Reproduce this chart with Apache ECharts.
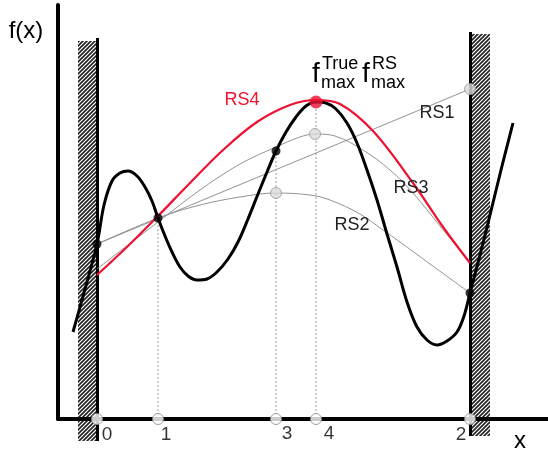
<!DOCTYPE html>
<html><head><meta charset="utf-8">
<script src="https://cdn.jsdelivr.net/npm/echarts@6/dist/echarts.min.js"></script>
<style>html,body{margin:0;padding:0;background:#fff}#c{width:548px;height:452px}</style>
</head><body><div id="c"></div>
<script>
// ---- data (abstract units: x to the right, f upward) ----
const fX = [15,27,39,46,54,62,70,79,87,94,100,107,114,122,130,139,149,159,170,180,190,200,209,218,228,238,248,258,268,278,289,299,309,319,329,339,349,359,369,379,389,399,406,412,422,432,443,455];
const fY = [87,130,175,214,238,246,248,243,232,218,201,183,167,152,143,139,140,147,160,177,200,225,247,268,287,302,313,317,316,310,296,276,249,219,185,152,117,92,79,74,78,87,103,126,164,204,249,296];
const rs1X = [39,412];
const rs1Y = [175,330];
const rs2X = [39,100,142,182,218,252,272,302,325,342,372,412];
const rs2Y = [175,201,214,222,226,224,219,205,189,177,155,126];
const rs3X = [39,100,142,182,218,242,257,277,305,332,355,382,412];
const rs3Y = [150,197,229,255,272,282,285,283,269,249,226,193,157];
const rs4X = [39,70,100,132,165,199,232,258,282,315,355,385,412];
const rs4Y = [144,173,203,236,269,297,314,319,315,288,236,192,156];
const designLabels = ['0','1','2','3','4'];
const designX = [39,100,412,218,258];
const designF = [175,201,126,268,317];
const predX = [412,218,257];
const predY = [330,226,285];
const rsNames = ['RS1','RS2','RS3','RS4'];

function pairs(xs, ys){ return xs.map((x,i)=>[x, ys[i]]); }

const chart = echarts.init(document.getElementById('c'), null, {renderer:'canvas'});

// hatch pattern
const pc = document.createElement('canvas'); pc.width = 4; pc.height = 4;
const g = pc.getContext('2d');
g.fillStyle = '#fff'; g.fillRect(0,0,4,4);
g.strokeStyle = '#222'; g.lineWidth = 1.6;
g.beginPath();
g.moveTo(0,4); g.lineTo(4,0);
g.moveTo(-1,1); g.lineTo(1,-1);
g.moveTo(3,5); g.lineTo(5,3);
g.stroke();
const hatch = {image: pc, repeat: 'repeat'};

const FONT = 'Liberation Sans, Arial, sans-serif';
function txt(x, y, text, size, color, align){
  return {type:'text', x:x, y:y, z:20, style:{text:text, font: size + 'px ' + FONT, fill: color || '#000', textAlign: align || 'center', textVerticalAlign:'middle'}};
}

const gray = '#939393';
const red = '#ee1131';
const series = [];
[[rs1X,rs1Y],[rs2X,rs2Y],[rs3X,rs3Y]].forEach((s,i)=>{
  series.push({type:'line', name: rsNames[i], data: pairs(s[0], s[1]), smooth: i===0 ? false : 0.35, showSymbol:false, lineStyle:{color:gray, width:1}, z:2, silent:true});
});
// dotted verticals at design points 1,3,4
[1,3,4].forEach(i=>{
  series.push({type:'line', data:[[designX[i],0],[designX[i],designF[i]]], showSymbol:false, lineStyle:{color:'#999', width:1, type:[2,2]}, z:2, silent:true});
});
series.push({type:'line', name:'f(x)', data: pairs(fX, fY), smooth:0.35, showSymbol:false, lineStyle:{color:'#000', width:3}, z:3, silent:true});
series.push({type:'line', name:'RS4', data: pairs(rs4X, rs4Y), smooth:0.35, showSymbol:false, lineStyle:{color:red, width:2.2}, z:4, silent:true});
series.push({type:'scatter', data: pairs(predX, predY), symbolSize:11, itemStyle:{color:'#dcdcdc', borderColor:'#999', borderWidth:1}, z:10, silent:true});
series.push({type:'scatter', data: [0,1,2,3].map(i=>[designX[i], designF[i]]), symbolSize:9, itemStyle:{color:'#000'}, z:11, silent:true});
series.push({type:'scatter', data: [[designX[4], designF[4]]], symbolSize:13, itemStyle:{color:red}, z:12, silent:true});
const labOff = {'0':[10,16],'1':[8,16],'2':[-9,16],'3':[11,15],'4':[13,15]};
series.push({type:'scatter', data: designX.map((x,i)=>({value:[x,0], name: designLabels[i], label:{offset: labOff[designLabels[i]]}})),
  symbolSize:11, itemStyle:{color:'#fff', borderColor:'#888', borderWidth:1}, z:13, silent:true,
  label:{show:true, position:'inside', formatter: p=>p.name, fontSize:19, fontFamily:FONT, color:'#000'}});

chart.setOption({
  animation:false,
  backgroundColor:'#fff',
  grid:{left:58, right:0, top:5, bottom:33},
  xAxis:{type:'value', min:0, max:490, z:3, axisLine:{show:true, lineStyle:{color:'#000', width:4}}, axisTick:{show:false}, axisLabel:{show:false}, splitLine:{show:false}},
  yAxis:{type:'value', min:0, max:414, z:3, axisLine:{show:true, lineStyle:{color:'#000', width:4}}, axisTick:{show:false}, axisLabel:{show:false}, splitLine:{show:false}},
  graphic:{elements:[
    {type:'rect', z:1, shape:{x:78, y:41, width:19, height:400}, style:{fill:hatch}},
    {type:'rect', z:1, shape:{x:471, y:34, width:19, height:402}, style:{fill:hatch}},
    {type:'line', z:1, shape:{x1:97.5, y1:38, x2:97.5, y2:441}, style:{stroke:'#000', lineWidth:3}},
    {type:'line', z:1, shape:{x1:470.5, y1:32, x2:470.5, y2:436}, style:{stroke:'#000', lineWidth:3}},
    txt(26, 31, 'f(x)', 24),
    txt(520, 441, 'x', 24),
    txt(242, 100, 'RS4', 18, red),
    txt(437, 113, 'RS1', 18, '#222'),
    txt(352, 225, 'RS2', 18, '#222'),
    txt(411, 188, 'RS3', 18, '#222'),
    txt(312, 74, 'f', 28, '#000', 'left'),
    txt(322, 64, 'True', 18, '#000', 'left'),
    txt(321, 83, 'max', 18, '#000', 'left'),
    txt(362, 74, 'f', 28, '#000', 'left'),
    txt(372, 64, 'RS', 18, '#000', 'left'),
    txt(371, 83, 'max', 18, '#000', 'left')
  ]},
  series: series
});
</script></body></html>
